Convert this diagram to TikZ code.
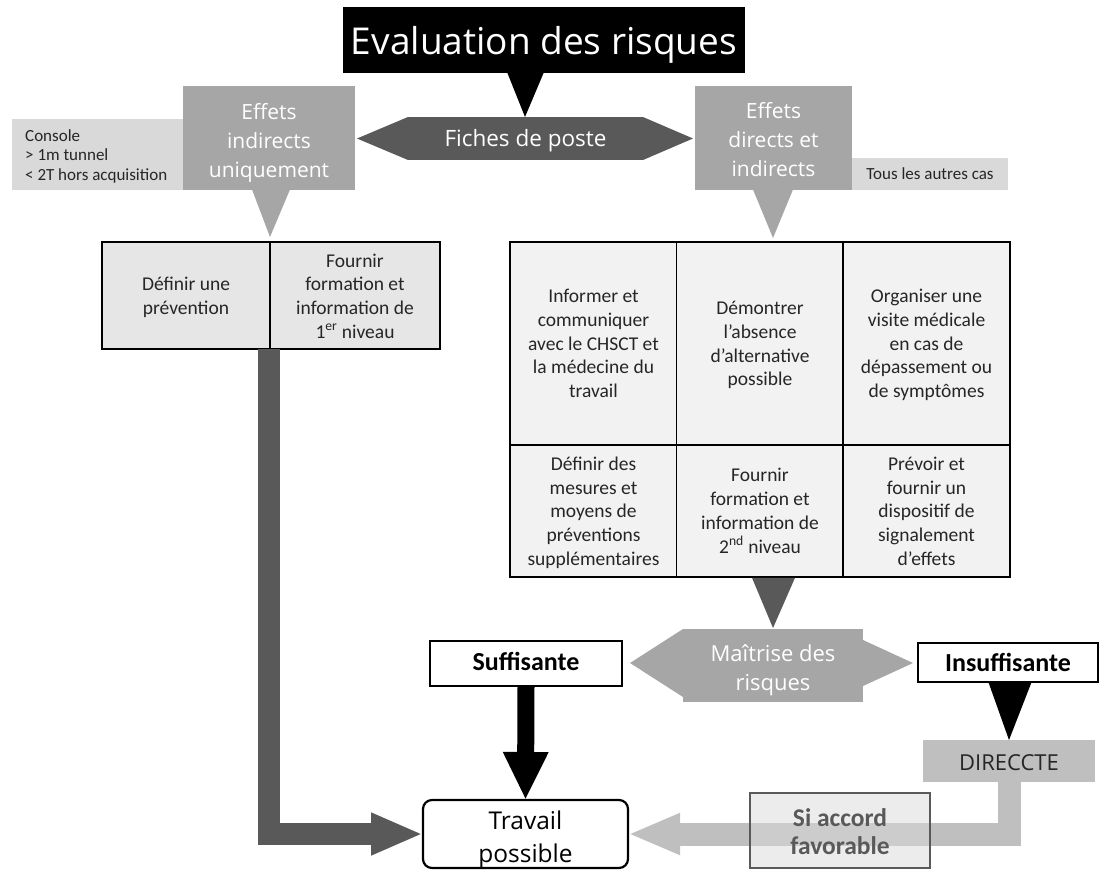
\documentclass[tikz,border=0pt]{standalone}
\usepackage{fontspec}
\setmainfont{Carlito}
\newfontfamily\osans{Open Sans}
\usetikzlibrary{arrows.meta,calc}
\definecolor{dg}{HTML}{595959}
\definecolor{mg}{HTML}{A6A6A6}
\definecolor{lg}{HTML}{D9D9D9}
\definecolor{ag}{HTML}{BFBFBF}
\definecolor{cellL}{HTML}{E6E6E6}
\definecolor{cellR}{HTML}{F2F2F2}
\definecolor{txt}{HTML}{262626}
\newcommand\lns[2][4.5pt]{\raisebox{-#1}[\height][\depth]{\begin{tabular}{@{}c@{}}#2\end{tabular}}}
\begin{document}
\begin{tikzpicture}[x=1pt,y=-1pt,
  box/.style={inner sep=0pt, outer sep=0pt, align=center},
  callout/.style={box, fill=mg, text=white, font=\osans\fontsize{21}{29}\selectfont},
  cellA/.style={box, fill=cellL, draw=black, line width=1.5pt, text=txt, font=\fontsize{19.5}{23.7}\selectfont},
  cellB/.style={box, fill=cellR, draw=black, line width=1.5pt, text=txt, font=\fontsize{19.5}{23.7}\selectfont, minimum width=167pt},
  outcome/.style={box, fill=white, draw=black, line width=2pt, font=\bfseries\fontsize{26}{30}\selectfont},
  note/.style={box, fill=lg, text=txt}
]
\useasboundingbox (0,0) rectangle (1105,871);

% title
\node[box, fill=black, text=white, minimum width=402pt, minimum height=66pt,
      font=\osans\fontsize{37}{45}\selectfont] (title) at (544,40) {\lns[5pt]{Evaluation des risques}};
\fill[black] (507,72) -- (544,72) -- (525,117) -- cycle;

% fiches de poste
\node[box, fill=dg, text=white, minimum width=235pt, minimum height=43pt,
      font=\osans\fontsize{22.5}{27}\selectfont] (fiches) at (525.5,138.5) {\lns[3pt]{Fiches de poste}};
\fill[dg] (fiches.north west) -- ++(-51,21.5) -- (fiches.south west) -- cycle;
\fill[dg] (fiches.north east) -- ++(50,21.5) -- (fiches.south east) -- cycle;

% left callout
\node[note, minimum width=171pt, minimum height=71pt] (console) at (97.5,154.5) {};
\node[anchor=west, inner sep=0pt, align=left, text=txt, font=\fontsize{17}{19.5}\selectfont] (constext) at (25,156) {Console\\> 1m tunnel\\< 2T hors acquisition};
\node[callout, minimum width=172pt, minimum height=104pt] (effind) at (269,138) {\lns[5pt]{Effets\\indirects\\uniquement}};
\fill[mg] ($(effind.south)+(-17,-0.5)$) -- ++(38,0) -- (270,237) -- cycle;

% right callout
\node[note, minimum width=156pt, minimum height=32pt, font=\fontsize{17}{20}\selectfont] (tous) at (930,174) {\lns[1pt]{Tous les autres cas}};
\node[callout, minimum width=157pt, minimum height=104pt] (effdir) at (773.5,138) {\lns[4pt]{Effets\\directs et\\indirects}};
\fill[mg] ($(effdir.south)+(-20.5,-0.5)$) -- ++(40,0) -- (773,238) -- cycle;

% left table
\node[cellA, minimum width=168pt, minimum height=107pt] (l1) at (186,295.5) {\lns[2.5pt]{Définir une\\prévention}};
\node[cellA, minimum width=170pt, minimum height=107pt] (l2) at (355,295.5) {\lns[2.5pt]{Fournir\\formation et\\information de\\1\textsuperscript{er} niveau}};

% right table
\node[cellB, minimum height=203pt] (r11) at (593.5,343.5) {\lns[2pt]{Informer et\\communiquer\\avec le CHSCT et\\la médecine du\\travail}};
\node[cellB, minimum height=203pt] (r12) at (760,343.5) {\lns[2pt]{Démontrer\\l’absence\\d’alternative\\possible}};
\node[cellB, minimum height=203pt] (r13) at (926.5,343.5) {\lns[2pt]{Organiser une\\visite médicale\\en cas de\\dépassement ou\\de symptômes}};
\node[cellB, minimum height=132pt] (r21) at (593.5,511) {\lns[2pt]{Définir des\\mesures et\\moyens de\\préventions\\supplémentaires}};
\node[cellB, minimum height=132pt] (r22) at (760,511) {\lns[2pt]{Fournir\\formation et\\information de\\2\textsuperscript{nd} niveau}};
\node[cellB, minimum height=132pt] (r23) at (926.5,511) {\lns[2pt]{Prévoir et\\fournir un\\dispositif de\\signalement\\d’effets}};

% maitrise
\fill[dg] ($(r22.south)+(-8,0.8)$) -- ++(43,0) -- (773,628) -- cycle;
\node[callout, minimum width=180pt, minimum height=73pt, font=\osans\fontsize{22}{29}\selectfont] (maitrise) at (773,665.5) {\lns[5pt]{Maîtrise des\\risques}};
\fill[mg] (maitrise.north west) -- (630,663) -- ($(maitrise.north west)+(0,68)$) -- cycle;
\fill[mg] ($(maitrise.north east)+(0,11)$) -- (913,663) -- ($(maitrise.north east)+(0,57)$) -- cycle;

% outcomes
\node[outcome, minimum width=192pt, minimum height=45pt] (suf) at (526,663.5) {\lns[0.5pt]{Suffisante}};
\node[outcome, minimum width=180pt, minimum height=39pt] (insuf) at (1008,662.5) {\lns[2.5pt]{Insuffisante}};
\node[box, fill=ag, text=txt, minimum width=172pt, minimum height=42pt,
      font=\osans\fontsize{22}{26}\selectfont] (dir) at (1009,761) {\lns[4pt]{DIRECCTE}};
\fill[black] ($(insuf.south)+(-20,-1)$) -- ++(44,0) -- (dir.north) -- cycle;

\node[box, fill=white, draw=black, line width=2.2pt, rounded corners=9pt,
      minimum width=205pt, minimum height=68pt,
      font=\osans\fontsize{24.5}{33}\selectfont] (travail) at (525.5,834) {\lns[5.5pt]{Travail\\possible}};

% block arrows
\draw[dg, line width=22pt, -{Triangle[length=52pt,width=39pt]}]
  ($(l1.south east)+(-1,0)$) |- (travail.west);
\draw[black, line width=17pt, -{Triangle[length=48pt,width=42pt]}]
  (suf.south) -- (travail.north);
\draw[ag, line width=23pt, -{Triangle[length=52pt,width=38pt]}]
  (dir.south) |- (travail.east);

\node[box, fill=lg, fill opacity=0.5, text opacity=1, draw=dg, line width=1.8pt,
      minimum width=180pt, minimum height=75pt, text=dg,
      font=\bfseries\fontsize{25.5}{28}\selectfont] (accord) at (840,830.5) {\lns[4pt]{Si accord\\favorable}};
\end{tikzpicture}
\end{document}
